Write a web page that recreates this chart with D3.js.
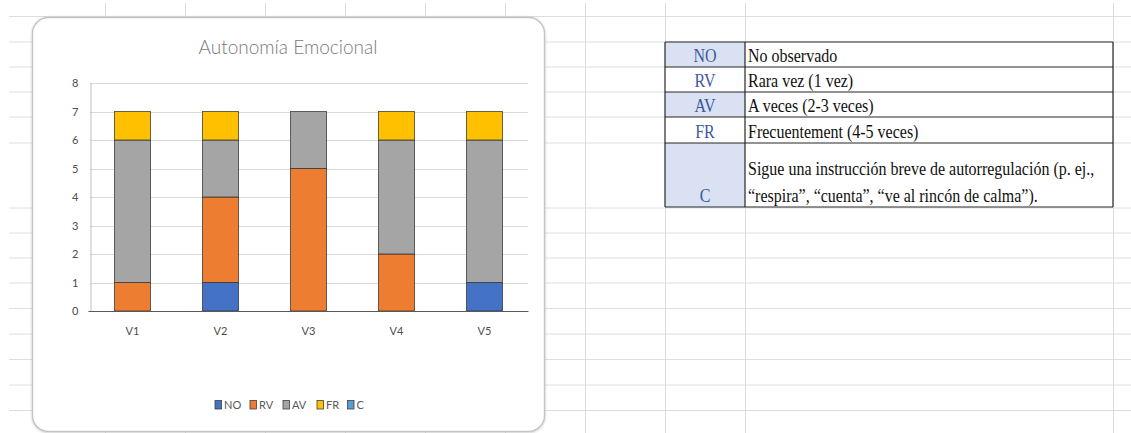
<!DOCTYPE html>
<html>
<head>
<meta charset="utf-8">
<script src="https://cdn.jsdelivr.net/npm/d3@7"></script>
<style>
  html, body { margin: 0; padding: 0; background: #ffffff; }
  svg { display: block; }
</style>
</head>
<body>
<svg id="sheet" width="1131" height="433"></svg>
<script>
// Observations per visit, stacked by frequency level
const categories = ["V1", "V2", "V3", "V4", "V5"];
const seriesNames = ["NO", "RV", "AV", "FR", "C"];
const NO = [0, 1, 0, 0, 1];
const RV = [1, 3, 5, 2, 0];
const AV = [5, 2, 2, 4, 5];
const FR = [1, 1, 0, 1, 1];
const C  = [0, 0, 0, 0, 0];
const yTicks = [0, 1, 2, 3, 4, 5, 6, 7, 8];
const chartTitle = "Autonomía Emocional";

// Legend table beside the chart
const codes = ["NO", "RV", "AV", "FR", "C"];
const descriptions = [
  ["No observado"],
  ["Rara vez (1 vez)"],
  ["A veces (2-3 veces)"],
  ["Frecuentement (4-5 veces)"],
  ["Sigue una instrucción breve de autorregulación (p. ej.,",
   "“respira”, “cuenta”, “ve al rincón de calma”)."]
];

const colors = {
  NO: "#4472C4", RV: "#ED7D31", AV: "#A5A5A5", FR: "#FFC000", C: "#5B9BD5"
};

const svg = d3.select("#sheet");

// ---- worksheet cell grid ----
const colEdges = [105, 185, 265, 345, 425, 505, 585, 665, 745, 1113];
const rowEdges = [16.5, 42, 67, 92, 117, 143, 208, 233, 258, 283, 308.5, 334, 359.5, 385, 410.5];
const grid = svg.append("g").attr("stroke", "#dedede").attr("stroke-width", 1);
colEdges.forEach(x => grid.append("line")
  .attr("x1", x + 0.5).attr("x2", x + 0.5).attr("y1", 3).attr("y2", 433));
rowEdges.forEach(y => grid.append("line")
  .attr("x1", 9).attr("x2", 1131).attr("y1", y).attr("y2", y));

// ---- chart frame ----
const defs = svg.append("defs");
const sh = defs.append("filter").attr("id", "shadow")
  .attr("x", "-5%").attr("y", "-5%").attr("width", "110%").attr("height", "110%");
sh.append("feDropShadow").attr("dx", 0).attr("dy", 0.6)
  .attr("stdDeviation", 0.8).attr("flood-color", "#000").attr("flood-opacity", 0.25);

svg.append("rect")
  .attr("x", 32.5).attr("y", 17.5).attr("width", 512).attr("height", 414)
  .attr("rx", 16).attr("ry", 16)
  .attr("fill", "#ffffff").attr("stroke", "#c4c4c4").attr("stroke-width", 1.4)
  .attr("filter", "url(#shadow)");

const chartFont = "Lato, 'Open Sans', 'Liberation Sans', sans-serif";

svg.append("text")
  .attr("x", 288).attr("y", 54)
  .attr("text-anchor", "middle")
  .attr("font-family", chartFont).attr("font-size", 19).attr("font-weight", 300)
  .attr("fill", "#7a7a7a")
  .text(chartTitle);

// ---- scales ----
const x = d3.scaleBand().domain(categories).range([88.5, 528.5])
  .paddingInner(0.59).paddingOuter(0.295);
const y = d3.scaleLinear().domain([0, 8]).range([311, 83]);

const plot = svg.append("g");

// horizontal gridlines
plot.append("g").selectAll("line").data(yTicks.filter(t => t > 0)).join("line")
  .attr("x1", 90).attr("x2", 528)
  .attr("y1", d => Math.round(y(d)) + 0.5).attr("y2", d => Math.round(y(d)) + 0.5)
  .attr("stroke", "#d9d9d9").attr("stroke-width", 1);

// y axis
const yAxis = plot.append("g").attr("transform", "translate(90.5,0)")
  .call(d3.axisLeft(y).tickValues(yTicks).tickSize(0).tickPadding(12).tickFormat(d3.format("d")));
yAxis.select(".domain").attr("stroke", "#bfbfbf");
yAxis.selectAll("text").attr("font-family", chartFont).attr("font-size", 11).attr("fill", "#4d4d4d");

// stacked bars
const rows = categories.map((c, i) => ({
  cat: c, NO: NO[i], RV: RV[i], AV: AV[i], FR: FR[i], C: C[i]
}));
const stacked = d3.stack().keys(seriesNames)(rows);

plot.append("g").selectAll("g").data(stacked).join("g")
  .attr("fill", d => colors[d.key])
  .selectAll("rect").data(d => d.filter(s => s[1] - s[0] > 0)).join("rect")
  .attr("x", d => x(d.data.cat))
  .attr("y", d => y(d[1]))
  .attr("width", x.bandwidth())
  .attr("height", d => y(d[0]) - y(d[1]))
  .attr("stroke", "#2e2e2e").attr("stroke-opacity", 0.8).attr("stroke-width", 0.9);

// x axis
const xAxis = plot.append("g").attr("transform", `translate(0,${y(0) + 0.5})`)
  .call(d3.axisBottom(x).tickSize(0).tickPadding(16));
xAxis.select(".domain").attr("stroke", "#595959").attr("stroke-width", 1.2)
  .attr("d", "M88.5,0H528.5");
xAxis.selectAll("text").attr("font-family", chartFont).attr("font-size", 11).attr("fill", "#4d4d4d");

// legend
const legendItems = [
  { key: "NO", x: 215 }, { key: "RV", x: 250 }, { key: "AV", x: 283 },
  { key: "FR", x: 317 }, { key: "C", x: 347.5 }
];
const lg = svg.append("g");
legendItems.forEach(it => {
  lg.append("rect").attr("x", it.x).attr("y", 400.5).attr("width", 6.5).attr("height", 8.5)
    .attr("fill", colors[it.key]).attr("stroke", "#404040").attr("stroke-width", 0.8);
  lg.append("text").attr("x", it.x + 9).attr("y", 409)
    .attr("font-family", chartFont).attr("font-size", 11).attr("fill", "#595959")
    .text(it.key);
});

// ---- code table ----
const tbl = { x0: 665, x1: 745, x2: 1113 };
const tRows = [42, 67, 92, 117, 143, 207];
const shaded = [true, false, true, false, true];
const serif = "'Liberation Serif', 'DejaVu Serif', serif";
const tg = svg.append("g");

// cell text is drawn slightly condensed and tall, like the sheet's Times face
function cellText(tx, ty, str, anchor, fill) {
  tg.append("text")
    .attr("transform", `translate(${tx},${ty}) scale(0.97,1.12)`)
    .attr("text-anchor", anchor)
    .attr("font-family", serif).attr("font-size", 16.5).attr("fill", fill)
    .text(str);
}

codes.forEach((code, i) => {
  const top = tRows[i], bottom = tRows[i + 1];
  tg.append("rect").attr("x", tbl.x0).attr("y", top).attr("width", tbl.x1 - tbl.x0).attr("height", bottom - top)
    .attr("fill", shaded[i] ? "#D9E1F2" : "#ffffff");
  tg.append("rect").attr("x", tbl.x1).attr("y", top).attr("width", tbl.x2 - tbl.x1).attr("height", bottom - top)
    .attr("fill", "#ffffff");
  cellText((tbl.x0 + tbl.x1) / 2, bottom - 5, code, "middle", "#3D5A9E");
  const lines = descriptions[i];
  lines.forEach((ln, j) => {
    cellText(tbl.x1 + 3, bottom - 5 - (lines.length - 1 - j) * 27, ln, "start", "#111");
  });
});

// table rules
const rules = tg.append("g").attr("stroke", "#262626").attr("stroke-width", 1.2);
tRows.forEach(yv => rules.append("line")
  .attr("x1", tbl.x0).attr("x2", tbl.x2).attr("y1", yv).attr("y2", yv));
[tbl.x0, tbl.x1, tbl.x2].forEach(xv => rules.append("line")
  .attr("x1", xv).attr("x2", xv).attr("y1", tRows[0]).attr("y2", tRows[tRows.length - 1]));
</script>
</body>
</html>
